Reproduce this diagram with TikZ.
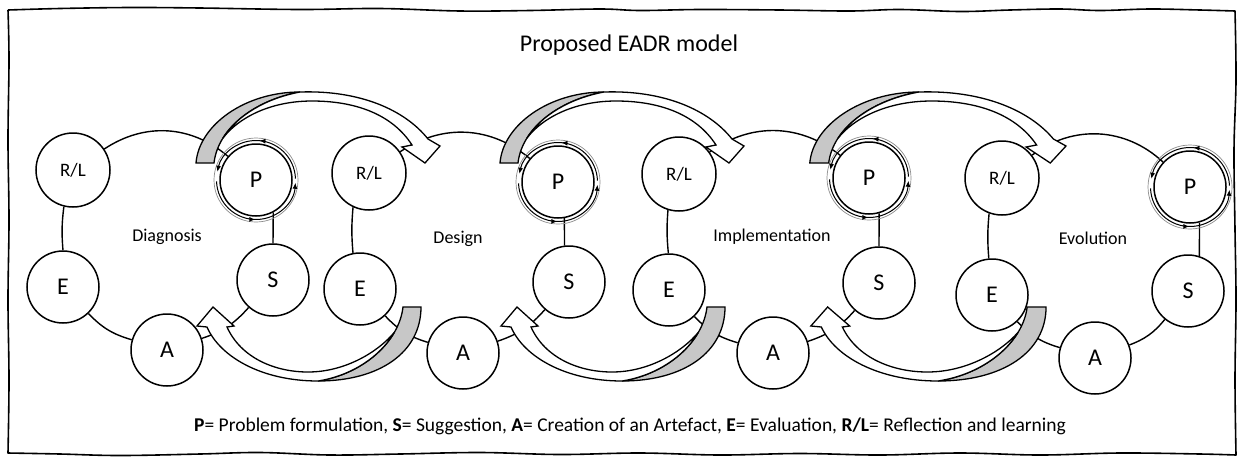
\documentclass[tikz,border=0pt]{standalone}
\usepackage{fontspec}
\setmainfont{Carlito}
\usetikzlibrary{arrows.meta,decorations.markings}
\newcommand\TopArrowShape{%
  \draw[backband] (196,163) .. controls (199,125) and (245,92) .. (300,92)
     .. controls (255,100) and (218,128) .. (214,163) -- cycle;
  \draw[frontband] (300,92) .. controls (360,90) and (405,110) .. (428,139)
     -- (440,146) -- (425,163) -- (402,147) -- (412,145)
     .. controls (392,114) and (355,101) .. (312,101)
     .. controls (270,101) and (238,118) .. (222.8,138.3)
     .. controls (237,115.3) and (266.25,98.25) .. (300,92) -- cycle;
}
\newcommand\BotArrowShape{%
  \draw[backband] (421,307) .. controls (421,352) and (380,381) .. (318,381)
     .. controls (363,374) and (399,342) .. (403,307) -- cycle;
  \draw[frontband] (318,381) .. controls (262,381) and (220,357) .. (207,327)
     -- (197,326) -- (213,307) -- (234,326) -- (227,327)
     .. controls (241,358) and (275,372) .. (308,372)
     .. controls (345,372) and (378,352) .. (394.4,332.3)
     .. controls (380.44,356.44) and (351.75,375.75) .. (318,381) -- cycle;
}
\newcommand\PRing[1]{%
  \draw[ringgray] (#1.center) circle[radius=42pt];
  \draw[ringblack] ([shift={(2:39.5pt)}]#1.center) arc[start angle=2,end angle=168,radius=39.5pt];
  \draw[ringblack] ([shift={(182:39.5pt)}]#1.center) arc[start angle=182,end angle=356,radius=39.5pt];
}
\begin{document}
\begin{tikzpicture}[x=1pt,y=-1pt,
  lnode/.style={circle,draw,line width=1.5pt,fill=white,minimum size=72pt,inner sep=0pt,font=\fontsize{24}{28}\selectfont},
  rlnode/.style={lnode,minimum size=74pt,font=\fontsize{19}{22}\selectfont},
  conn/.style={line width=1.4pt},
  frameline/.style={line width=1.6pt,line join=round},
  band/.style={line width=1.3pt,line join=miter},
  backband/.style={band,fill=black!22},
  frontband/.style={band,fill=white},
  ringblack/.style={line width=1pt,-{Latex[length=6pt,width=5pt]},postaction={decorate},
     decoration={markings,mark=at position 0.5 with {\arrow{Latex[length=6pt,width=5pt]}}}},
  ringgray/.style={line width=0.7pt,black!45},
  looplabel/.style={font=\fontsize{18}{22}\selectfont},
]
\useasboundingbox (0,0) rectangle (1239,459);
% frame
\draw[frameline] plot[smooth,tension=0.6] coordinates {(8,10) (60,8.5) (130,7.5) (200,8) (300,9.5) (380,8.5) (460,11) (530,10.5) (600,9) (640,10.5) (700,9.5) (780,10) (850,11) (900,9.5) (960,11.5) (1010,10) (1060,9) (1100,10.5) (1150,9) (1200,10) (1235,11)}
  -- plot[smooth,tension=0.6] coordinates {(1235,11) (1236,80) (1234,150) (1235,230) (1236,300) (1235,380) (1236,455)}
  -- plot[smooth,tension=0.6] coordinates {(1236,455) (1200,454) (1120,453) (1040,455) (960,453) (880,455) (800,453.5) (720,455) (640,453) (560,454.5) (480,452.5) (400,454) (330,455) (260,452.5) (200,454) (120,455.5) (60,454) (8,453)}
  -- plot[smooth,tension=0.6] coordinates {(8,453) (9,380) (8,300) (9,220) (8,140) (9,60) (8,10)};
% title and legend
\node[font=\fontsize{24}{28}\selectfont] (title) at (629,45) {Proposed EADR model};
\node[font=\fontsize{19.5}{22}\selectfont] (legend) at (630,426) {\textbf{P}= Problem formulation, \textbf{S}= Suggestion, \textbf{A}= Creation of an Artefact, \textbf{E}= Evaluation, \textbf{R/L}= Reflection and learning};
% loop 1
\node[rlnode] (RL1) at (73,170) {R/L};
\node[lnode] (P1) at (256,180) {P};
\node[lnode] (S1) at (273,280) {S};
\node[lnode] (A1) at (167,350) {A};
\node[lnode] (E1) at (63,287) {E};
\node[looplabel] (L1) at (167,237) {Diagnosis};
% loop 2
\node[rlnode] (RL2) at (369,173) {R/L};
\node[lnode] (P2) at (558,182) {P};
\node[lnode] (S2) at (569,282) {S};
\node[lnode] (A2) at (463,353) {A};
\node[lnode] (E2) at (360,289) {E};
\node[looplabel] (L2) at (458,239) {Design};
% loop 3
\node[rlnode] (RL3) at (679,174) {R/L};
\node[lnode] (P3) at (869,178) {P};
\node[lnode] (S3) at (879,283) {S};
\node[lnode] (A3) at (773,353) {A};
\node[lnode] (E3) at (669,290) {E};
\node[looplabel] (L3) at (772,237) {Implementation};
% loop 4
\node[rlnode] (RL4) at (1002,178) {R/L};
\node[lnode] (P4) at (1190,187) {P};
\node[lnode] (S4) at (1188,291) {S};
\node[lnode] (A4) at (1095,358) {A};
\node[lnode] (E4) at (992,295) {E};
\node[looplabel] (L4) at (1093,238) {Evolution};
% loop connectors
\draw[conn] (RL1) to[bend left=37] (P1);
\draw[conn] (P1.-62) -- (S1.north);
\draw[conn] (S1) to[bend left=15] (A1);
\draw[conn] (A1) to[bend left=15] (E1);
\draw[conn] (E1.north) to[bend left=6] (RL1.-104);
\draw[conn] (RL2) to[bend left=37] (P2);
\draw[conn] (P2.-80) -- (S2.97);
\draw[conn] (S2) to[bend left=15] (A2);
\draw[conn] (A2) to[bend left=15] (E2);
\draw[conn] (E2.101) to[bend left=5] (RL2.-115);
\draw[conn] (RL3) to[bend left=37] (P3);
\draw[conn] (P3.-74) -- (S3.north);
\draw[conn] (S3) to[bend left=15] (A3);
\draw[conn] (A3) to[bend left=15] (E3);
\draw[conn] (E3.91) to[bend left=5] (RL3.-107);
\draw[conn] (RL4) to[bend left=40] (P4);
\draw[conn] (P4.-75) -- (S4.72);
\draw[conn] (S4) to[bend left=15] (A4);
\draw[conn] (A4) to[bend left=15] (E4);
\draw[conn] (E4.95) to[bend left=5] (RL4.-110);
% rings around P
\PRing{P1}
\PRing{P2}
\PRing{P3}
\PRing{P4}
% big curved arrows
\TopArrowShape
\BotArrowShape
\begin{scope}[xshift=304pt]
  \TopArrowShape
  \BotArrowShape
\end{scope}
\begin{scope}[shift={(604,0)},xscale=1.05]
  \TopArrowShape
  \BotArrowShape
\end{scope}
\end{tikzpicture}
\end{document}
